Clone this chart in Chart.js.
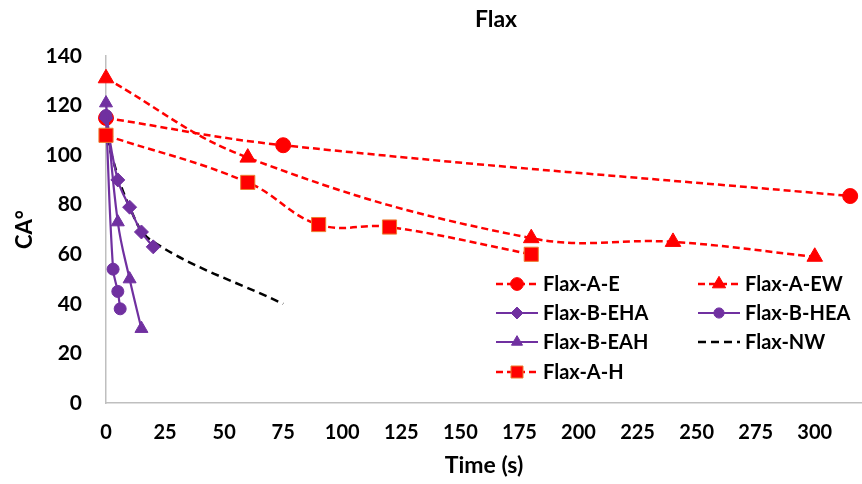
<!DOCTYPE html>
<html>
<head>
<meta charset="utf-8">
<script src="https://cdn.jsdelivr.net/npm/chart.js@4/dist/chart.umd.min.js"></script>
<style>
  html, body { margin: 0; padding: 0; background: #ffffff; }
  #wrap { width: 862px; height: 484px; position: relative; }
</style>
</head>
<body>
<div id="wrap"><canvas id="c" width="862" height="484"></canvas></div>
<script>
// ---- data ----
const chartTitle = "Flax";
const xAxisTitle = "Time (s)";
const yAxisTitle = "CA°";
const seriesNames = ["Flax-A-E", "Flax-A-EW", "Flax-B-EHA", "Flax-B-HEA", "Flax-B-EAH", "Flax-NW", "Flax-A-H"];

const aeTime   = [0, 75, 315];
const aeCA     = [115, 104, 83.5];
const aewTime  = [0, 60, 180, 240, 300];
const aewCA    = [131, 99, 66.5, 65, 59];
const behaTime = [0, 5, 10, 15, 20];
const behaCA   = [115, 90, 79, 69, 63];
const bheaTime = [0, 3, 5, 6];
const bheaCA   = [116, 54, 45, 38];
const beahTime = [0, 5, 10, 15];
const beahCA   = [121, 73, 50, 30];
const nwTime   = [0, 10, 20, 75];
const nwCA     = [107, 79, 65, 40];
const ahTime   = [0, 60, 90, 120, 180];
const ahCA     = [108, 89, 72, 71, 60];

const xMin = 0, xMax = 320, xStep = 25;
const yMin = 0, yMax = 140, yStep = 20;

// ---- styles ----
const RED = "#FF0000", PURPLE = "#7030A0", BLACK = "#000000", ORANGE = "#ED7D31";
const FONT = "Lato, 'Open Sans', 'Liberation Sans', sans-serif";

function pts(xs, ys) { return xs.map((x, i) => ({ x: x, y: ys[i] })); }

const datasets = [
  { label: seriesNames[0], data: pts(aeTime, aeCA), borderColor: RED, backgroundColor: RED,
    borderDash: [7, 4], borderWidth: 2.5, pointStyle: "circle", pointRadius: 7.5,
    pointBackgroundColor: RED, pointBorderColor: RED, pointBorderWidth: 1, order: 6 },
  { label: seriesNames[1], data: pts(aewTime, aewCA), borderColor: RED, backgroundColor: RED,
    borderDash: [7, 4], borderWidth: 2.5, pointStyle: "triangle", pointRadius: 9,
    pointBackgroundColor: RED, pointBorderColor: RED, pointBorderWidth: 1, order: 5 },
  { label: seriesNames[2], data: pts(behaTime, behaCA), borderColor: PURPLE, backgroundColor: PURPLE,
    borderWidth: 2.2, pointStyle: "rectRot", pointRadius: 7,
    pointBackgroundColor: PURPLE, pointBorderColor: PURPLE, pointBorderWidth: 1, order: 2 },
  { label: seriesNames[3], data: pts(bheaTime, bheaCA), borderColor: PURPLE, backgroundColor: PURPLE,
    borderWidth: 2.2, pointStyle: "circle", pointRadius: 6,
    pointBackgroundColor: PURPLE, pointBorderColor: PURPLE, pointBorderWidth: 1, order: 3 },
  { label: seriesNames[4], data: pts(beahTime, beahCA), borderColor: PURPLE, backgroundColor: PURPLE,
    borderWidth: 2.2, pointStyle: "triangle", pointRadius: 7.5,
    pointBackgroundColor: PURPLE, pointBorderColor: PURPLE, pointBorderWidth: 1, order: 1 },
  { label: seriesNames[5], data: pts(nwTime, nwCA), borderColor: BLACK, backgroundColor: BLACK,
    borderDash: [8, 5], borderWidth: 2.5, pointStyle: "circle", pointRadius: 0, order: 4 },
  { label: seriesNames[6], data: pts(ahTime, ahCA), borderColor: RED, backgroundColor: RED,
    borderDash: [7, 4], borderWidth: 2.5, pointStyle: "rect", pointRadius: 10,
    pointBackgroundColor: RED, pointBorderColor: ORANGE, pointBorderWidth: 1, order: 0 }
];
datasets.forEach(d => { d.tension = 0.4; d.fill = false; d.clip = false; d.pointHoverRadius = d.pointRadius; });

// legend layout (2 columns)
const legendCols = [{ x0: 496, x1: 538, tx: 543 }, { x0: 698, x1: 740, tx: 745 }];
const legendRows = [284, 313, 342, 372];

function drawMarker(ctx, style, x, y, r) {
  ctx.beginPath();
  if (style === "circle") {
    ctx.arc(x, y, r, 0, Math.PI * 2);
  } else if (style === "triangle") {
    for (let k = 0; k < 3; k++) {
      const a = k * 2 * Math.PI / 3;
      const px = x + Math.sin(a) * r, py = y - Math.cos(a) * r;
      if (k === 0) ctx.moveTo(px, py); else ctx.lineTo(px, py);
    }
    ctx.closePath();
  } else if (style === "rect") {
    const s = r * Math.SQRT1_2;
    ctx.rect(x - s, y - s, 2 * s, 2 * s);
  } else if (style === "rectRot") {
    ctx.moveTo(x - r, y); ctx.lineTo(x, y - r); ctx.lineTo(x + r, y); ctx.lineTo(x, y + r);
    ctx.closePath();
  }
  ctx.fill();
  ctx.stroke();
}

const customPlugin = {
  id: "custom",
  afterDraw(chart) {
    const ctx = chart.ctx;
    const ca = chart.chartArea;
    ctx.save();
    // title
    ctx.fillStyle = "#000";
    ctx.font = "bold 23px " + FONT;
    ctx.textAlign = "center";
    ctx.textBaseline = "middle";
    ctx.fillText(chartTitle, (ca.left + ca.right) / 2 + 12, 20);
    // legend
    ctx.font = "bold 20px " + FONT;
    ctx.textAlign = "left";
    chart.data.datasets.forEach((d, i) => {
      const col = legendCols[i % 2];
      const y = legendRows[Math.floor(i / 2)];
      ctx.save();
      ctx.strokeStyle = d.borderColor;
      ctx.lineWidth = d.borderWidth;
      ctx.setLineDash(d.borderDash || []);
      ctx.beginPath();
      ctx.moveTo(col.x0, y);
      ctx.lineTo(col.x1, y);
      ctx.stroke();
      ctx.setLineDash([]);
      if (d.pointRadius > 0) {
        ctx.fillStyle = d.pointBackgroundColor;
        ctx.strokeStyle = d.pointBorderColor;
        ctx.lineWidth = 1;
        drawMarker(ctx, d.pointStyle, (col.x0 + col.x1) / 2, y, d.pointRadius * 0.85);
      }
      ctx.restore();
      ctx.fillStyle = "#000";
      ctx.fillText(d.label, col.tx, y + 1);
    });
    ctx.restore();
  }
};

new Chart(document.getElementById("c"), {
  type: "line",
  data: { datasets: datasets },
  plugins: [customPlugin],
  options: {
    responsive: false,
    animation: false,
    layout: { autoPadding: false, padding: { top: 56, right: 0, left: 0, bottom: 0 } },
    plugins: { legend: { display: false }, title: { display: false }, tooltip: { enabled: false } },
    scales: {
      x: {
        type: "linear", min: xMin, max: xMax,
        grid: { display: false, drawTicks: false },
        border: { display: true, color: "#BFBFBF", width: 1.5 },
        ticks: { stepSize: xStep, includeBounds: false, padding: 18, color: "#000",
                 font: { family: FONT, weight: "bold", size: 20 } },
        title: { display: true, text: xAxisTitle, color: "#000", padding: { top: 0, bottom: 5 },
                 font: { family: FONT, weight: "bold", size: 23 } },
        afterFit(scale) { scale.height = 81; scale.paddingRight = 0; }
      },
      y: {
        type: "linear", min: yMin, max: yMax,
        grid: { display: false, drawTicks: false },
        border: { display: true, color: "#BFBFBF", width: 1.5 },
        ticks: { stepSize: yStep, padding: 24, color: "#000",
                 font: { family: FONT, weight: "bold", size: 21 } },
        title: { display: true, text: yAxisTitle, color: "#000", padding: { top: 12, bottom: 0 },
                 font: { family: FONT, weight: "bold", size: 22 } },
        afterFit(scale) { scale.width = 106; }
      }
    }
  }
});
</script>
</body>
</html>
